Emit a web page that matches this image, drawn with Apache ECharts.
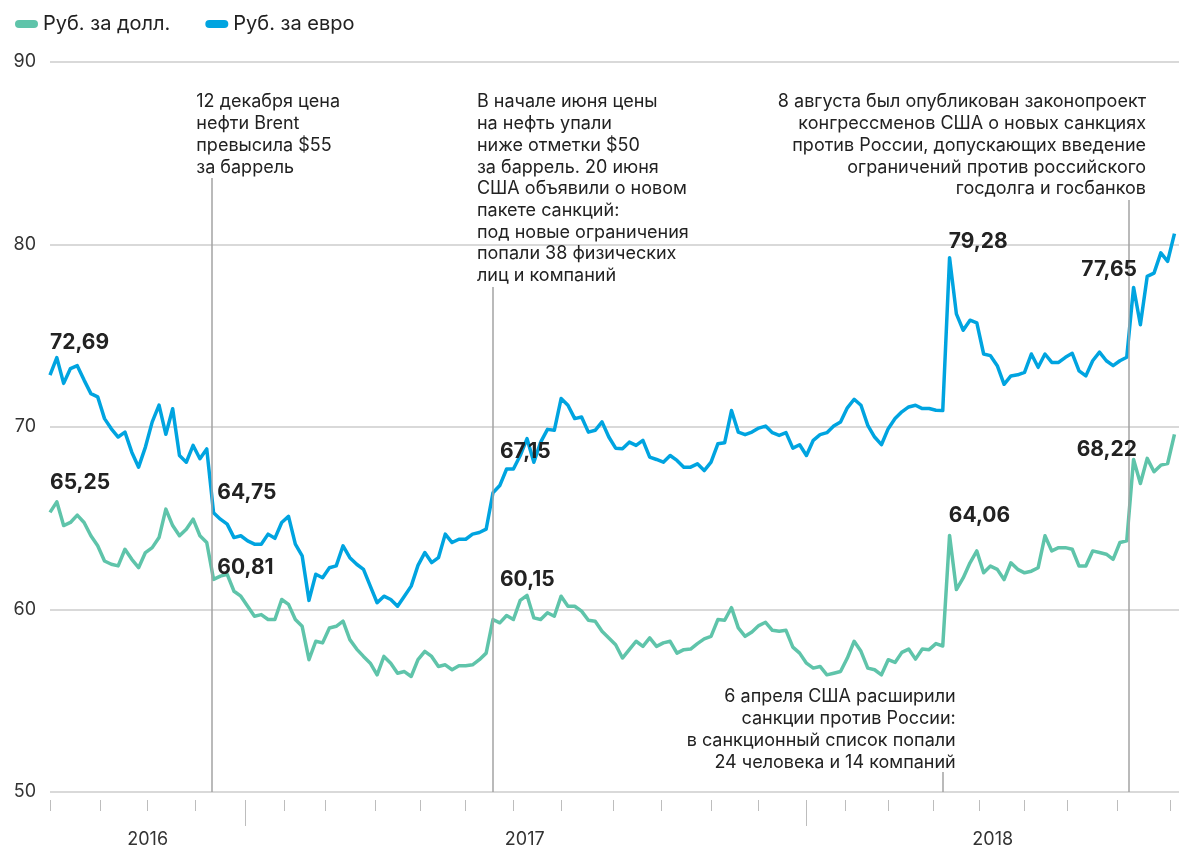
<!DOCTYPE html>
<html>
<head>
<meta charset="utf-8">
<script src="https://cdn.jsdelivr.net/npm/echarts@6/dist/echarts.min.js"></script>
<style>
  html, body { margin: 0; padding: 0; background: #fff; }
  #chart { width: 1191px; height: 860px; }
</style>
</head>
<body>
<div id="chart"></div>
<script>
// торговые дни: будни с 1 сентября 2016 по 7 сентября 2018 без праздников
const FIRST_DAY = '2016-09-01';
const LAST_DAY = '2018-09-07';
const holidays = [
  '2016-11-04',
  '2017-01-02', '2017-01-03', '2017-01-04', '2017-01-05', '2017-01-06',
  '2017-02-23', '2017-02-24', '2017-03-08', '2017-05-01', '2017-05-08', '2017-05-09',
  '2017-06-12', '2017-11-06',
  '2018-01-01', '2018-01-02', '2018-01-03', '2018-01-04', '2018-01-05', '2018-01-08',
  '2018-02-23', '2018-03-08', '2018-03-09', '2018-04-30', '2018-05-01', '2018-05-02',
  '2018-05-09', '2018-06-11', '2018-06-12'
];

const STEP = 3;
const seriesNames = ['Руб. за долл.', 'Руб. за евро'];
const usdRub = [
  65.32, 65.9, 64.6, 64.77, 65.17, 64.77, 64.04, 63.49, 62.66, 62.48,
  62.39, 63.3, 62.75, 62.29, 63.12, 63.39, 63.94, 65.5, 64.6, 64.04,
  64.4, 64.95, 64.04, 63.67, 61.65, 61.83, 61.93, 61.0, 60.73, 60.18,
  59.63, 59.72, 59.45, 59.45, 60.55, 60.28, 59.45, 59.08, 57.25, 58.26,
  58.17, 58.99, 59.08, 59.36, 58.35, 57.83, 57.43, 57.06, 56.42, 57.43,
  57.06, 56.51, 56.6, 56.33, 57.25, 57.71, 57.43, 56.88, 56.97, 56.7,
  56.92, 56.92, 56.97, 57.25, 57.61, 59.45, 59.27, 59.67, 59.45, 60.5,
  60.77, 59.54, 59.45, 59.82, 59.63, 60.73, 60.18, 60.18, 59.91, 59.41,
  59.36, 58.81, 58.44, 58.07, 57.34, 57.8, 58.26, 57.98, 58.44, 57.98,
  58.17, 58.26, 57.61, 57.8, 57.83, 58.13, 58.39, 58.53, 59.45, 59.41,
  60.1, 58.99, 58.53, 58.77, 59.12, 59.3, 58.86, 58.81, 58.86, 57.94,
  57.61, 57.06, 56.79, 56.88, 56.42, 56.51, 56.6, 57.34, 58.26, 57.71,
  56.79, 56.7, 56.42, 57.25, 57.1, 57.65, 57.83, 57.28, 57.83, 57.8,
  58.13, 58.0, 64.06, 61.09, 61.73, 62.56, 63.21, 62.01, 62.38, 62.2,
  61.64, 62.56, 62.2, 62.01, 62.1, 62.29, 64.04, 63.21, 63.39, 63.39,
  63.3, 62.38, 62.38, 63.21, 63.12, 63.03, 62.75, 63.67, 63.76, 68.22,
  66.9, 68.28, 67.55, 67.91, 68.0, 69.6
];
const eurRub = [
  72.84, 73.8, 72.39, 73.2, 73.36, 72.57, 71.83, 71.65, 70.46, 69.9,
  69.45, 69.72, 68.62, 67.8, 68.9, 70.28, 71.2, 69.6, 71.0, 68.44,
  68.07, 68.99, 68.26, 68.8, 65.3, 64.95, 64.68, 63.94, 64.04, 63.76,
  63.58, 63.58, 64.13, 63.9, 64.77, 65.1, 63.58, 62.94, 60.5, 61.93,
  61.74, 62.29, 62.39, 63.49, 62.84, 62.48, 62.2, 61.28, 60.37, 60.73,
  60.55, 60.18, 60.73, 61.28, 62.42, 63.12, 62.57, 62.84, 64.13, 63.67,
  63.85, 63.85, 64.13, 64.22, 64.4, 66.4, 66.79, 67.7, 67.7, 68.44,
  69.36, 68.07, 69.17, 69.87, 69.82, 71.56, 71.19, 70.46, 70.55, 69.72,
  69.82, 70.28, 69.45, 68.84, 68.81, 69.17, 68.99, 69.27, 68.35, 68.22,
  68.07, 68.44, 68.17, 67.8, 67.8, 67.98, 67.61, 68.07, 69.08, 69.14,
  70.9, 69.72, 69.58, 69.72, 69.94, 70.05, 69.69, 69.54, 69.69, 68.84,
  69.03, 68.44, 69.27, 69.58, 69.69, 70.05, 70.28, 71.05, 71.52, 71.19,
  70.09, 69.45, 69.03, 69.91, 70.46, 70.83, 71.1, 71.19, 71.01, 71.01,
  70.92, 70.9, 79.28, 76.2, 75.3, 75.85, 75.7, 74.0, 73.91, 73.36,
  72.34, 72.8, 72.86, 72.99, 74.0, 73.27, 74.0, 73.54, 73.54, 73.82,
  74.04, 73.08, 72.8, 73.63, 74.1, 73.63, 73.36, 73.63, 73.82, 77.65,
  75.6, 78.25, 78.43, 79.54, 79.08, 80.6
];

// события и подписи
const eventDays = ['2016-12-12', '2017-06-20', '2018-04-06', '2018-08-08'];
const usdMarks = ['65,25', '60,81', '60,15', '64,06', '68,22'];
const eurMarks = ['72,69', '64,75', '67,15', '79,28', '77,65'];
const notes = [
  '12 декабря цена\nнефти Brent\nпревысила $55\nза баррель',
  'В начале июня цены\nна нефть упали\nниже отметки $50\nза баррель. 20 июня\nСША объявили о новом\nпакете санкций:\nпод новые ограничения\nпопали 38 физических\nлиц и компаний',
  '6 апреля США расширили\nсанкции против России:\nв санкционный список попали\n24 человека и 14 компаний',
  '8 августа был опубликован законопроект\nконгрессменов США о новых санкциях\nпротив России, допускающих введение\nограничений против российского\nгосдолга и госбанков'
];

const GREEN = '#5fc4aa';
const BLUE = '#00a4e0';
const FONT = 'Inter, "Noto Sans", sans-serif';

const days = [];
for (let t = Date.parse(FIRST_DAY); t <= Date.parse(LAST_DAY); t += 864e5) {
  const d = new Date(t);
  const s = d.toISOString().slice(0, 10);
  const wd = d.getUTCDay();
  if (wd === 0 || wd === 6 || holidays.includes(s)) continue;
  days.push(s);
}

// первые дни месяцев, начала годов и середины годов (для подписи года)
const monthStarts = new Set();
const yearStarts = new Set();
const yearFirst = {};
days.forEach((s, i) => {
  if (i === 0 || s.slice(0, 7) !== days[i - 1].slice(0, 7)) monthStarts.add(i);
  if (i > 0 && s.slice(0, 4) !== days[i - 1].slice(0, 4)) yearStarts.add(i);
  if (yearFirst[s.slice(0, 4)] === undefined) yearFirst[s.slice(0, 4)] = i;
});
const yearMid = new Set();
const years = Object.keys(yearFirst);
years.forEach((y, j) => {
  const a = yearFirst[y];
  const b = j + 1 < years.length ? yearFirst[years[j + 1]] : days.length - 1;
  yearMid.add(Math.floor((a + b) / 2));
});

const toPoints = arr => arr.map((v, k) => [k * STEP, v]);

const valueLabel = (text, coord, align, dx) => ({
  coord,
  symbol: 'circle',
  symbolSize: 1,
  itemStyle: { color: 'rgba(0,0,0,0)' },
  label: {
    show: true, position: 'inside', formatter: text, align, verticalAlign: 'middle',
    offset: [dx, 0], fontSize: 21, fontWeight: 700, color: '#222', fontFamily: FONT
  }
});
const noteLabel = (text, coord, align, dx) => ({
  coord,
  symbol: 'circle',
  symbolSize: 1,
  itemStyle: { color: 'rgba(0,0,0,0)' },
  label: {
    show: true, position: 'inside', formatter: text, align, verticalAlign: 'top',
    offset: [dx, 0], fontSize: 18, lineHeight: 21.7, color: '#222', fontFamily: FONT
  }
});

const tickAxis = (extra) => Object.assign({
  type: 'category',
  data: days,
  boundaryGap: false,
  position: 'bottom',
  offset: 8,
  axisLine: { show: false },
  splitLine: { show: false },
  axisLabel: { show: false }
}, extra);

const chart = echarts.init(document.getElementById('chart'));
chart.setOption({
  animation: false,
  textStyle: { fontFamily: FONT },
  legend: {
    data: seriesNames,
    left: 10,
    top: 9,
    itemWidth: 23,
    itemHeight: 8,
    itemGap: 35,
    icon: 'path://M4,0 H19 A4,4 0 0 1 19,8 H4 A4,4 0 0 1 4,0 Z',
    textStyle: { fontSize: 20, color: '#222', fontFamily: FONT }
  },
  grid: { left: 50, right: 12, top: 62, bottom: 68 },
  xAxis: [
    tickAxis({ offset: 0, axisTick: { show: false } }),
    tickAxis({
      axisTick: { show: true, interval: i => monthStarts.has(i), length: 11, lineStyle: { color: '#bdbdbd', width: 1 } }
    }),
    tickAxis({
      axisTick: { show: true, interval: i => yearStarts.has(i), length: 26, lineStyle: { color: '#bdbdbd', width: 1 } },
      axisLabel: {
        show: true, interval: i => yearMid.has(i), formatter: v => v.slice(0, 4),
        margin: 31, fontSize: 18, color: '#333', fontFamily: FONT
      }
    })
  ],
  yAxis: {
    type: 'value',
    min: 50,
    max: 90,
    interval: 10,
    axisLine: { show: false },
    axisTick: { show: false },
    axisLabel: { margin: 14, fontSize: 18, color: '#333', fontFamily: FONT },
    splitLine: { lineStyle: { color: '#cccccc', width: 1.5 } }
  },
  series: [
    {
      name: 'notes',
      type: 'line',
      data: [],
      z: 1,
      markLine: {
        silent: true,
        symbol: ['none', 'none'],
        label: { show: false },
        lineStyle: { color: '#a3a3a3', width: 1.5, type: 'solid' },
        data: [
          [{ coord: [eventDays[0], 83.64] }, { coord: [eventDays[0], 50] }],
          [{ coord: [eventDays[1], 77.67] }, { coord: [eventDays[1], 50] }],
          [{ coord: [eventDays[2], 51.1] }, { coord: [eventDays[2], 50] }],
          [{ coord: [eventDays[3], 82.44] }, { coord: [eventDays[3], 50] }]
        ]
      },
      markPoint: {
        silent: true,
        data: [
          noteLabel(notes[0], [eventDays[0], 88.4], 'left', -15),
          noteLabel(notes[1], [eventDays[1], 88.4], 'left', -16),
          noteLabel(notes[2], [eventDays[2], 55.8], 'right', 13),
          noteLabel(notes[3], [eventDays[3], 88.4], 'right', 17)
        ]
      }
    },
    {
      name: seriesNames[0],
      type: 'line',
      data: toPoints(usdRub),
      showSymbol: false,
      z: 3,
      lineStyle: { width: 3.5, color: GREEN, join: 'round' },
      itemStyle: { color: GREEN },
      markPoint: {
        silent: true,
        data: [
          valueLabel(usdMarks[0], [days[0], 66.93], 'left', 0),
          valueLabel(usdMarks[1], [eventDays[0], 62.27], 'left', 6),
          valueLabel(usdMarks[2], [eventDays[1], 61.62], 'left', 7),
          valueLabel(usdMarks[3], [eventDays[2], 65.12], 'left', 6),
          valueLabel(usdMarks[4], [eventDays[3], 68.74], 'right', 8)
        ]
      }
    },
    {
      name: seriesNames[1],
      type: 'line',
      data: toPoints(eurRub),
      showSymbol: false,
      z: 3,
      lineStyle: { width: 3.5, color: BLUE, join: 'round' },
      itemStyle: { color: BLUE },
      markPoint: {
        silent: true,
        data: [
          valueLabel(eurMarks[0], [days[0], 74.6], 'left', 0),
          valueLabel(eurMarks[1], [eventDays[0], 66.38], 'left', 6),
          valueLabel(eurMarks[2], [eventDays[1], 68.63], 'left', 7),
          valueLabel(eurMarks[3], [eventDays[2], 80.14], 'left', 6),
          valueLabel(eurMarks[4], [eventDays[3], 78.6], 'right', 8)
        ]
      }
    }
  ]
});
</script>
</body>
</html>
